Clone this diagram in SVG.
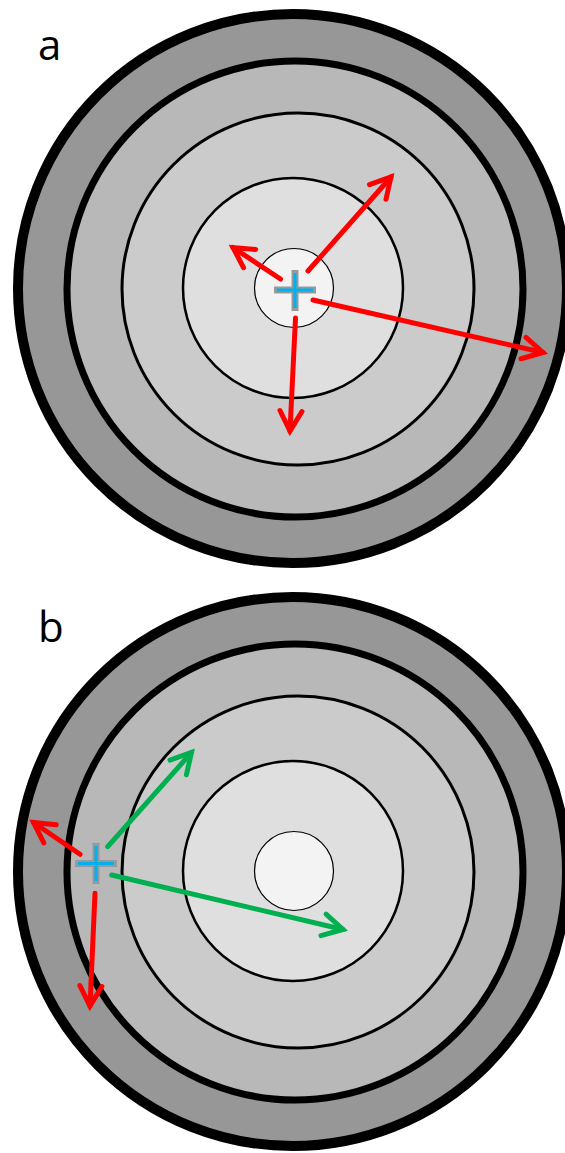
<svg xmlns="http://www.w3.org/2000/svg" width="565" height="1153" viewBox="0 0 565 1153">
<style>
.lbl{font-family:"Open Sans","Liberation Sans",sans-serif;font-size:42px;fill:#000}
.r1{fill:#979797;stroke:#000;stroke-width:10}
.r2{fill:#b8b8b8;stroke:#000;stroke-width:7}
.r3{fill:#cbcbcb;stroke:#000;stroke-width:3}
.r4{fill:#dfdfdf;stroke:#000;stroke-width:2.5}
.r5{fill:#f3f3f3;stroke:#000;stroke-width:1.2}
.cg{stroke:#999;stroke-width:7;fill:none}
.cb{stroke:#00b0f0;stroke-width:3;fill:none}
.red{stroke:#ff0000;stroke-width:5;fill:none;stroke-linecap:round;marker-end:url(#hr)}
.grn{stroke:#00b050;stroke-width:5;fill:none;stroke-linecap:round;marker-end:url(#hg)}
</style>
<defs>
<marker id="hr" markerUnits="userSpaceOnUse" viewBox="-26 -14 30 28" refX="0" refY="0" markerWidth="30" markerHeight="28" orient="auto" overflow="visible">
<path d="M-20,-11 L0,0 L-20,11" fill="none" stroke="#ff0000" stroke-width="5" stroke-linecap="round" stroke-linejoin="miter"/>
</marker>
<marker id="hg" markerUnits="userSpaceOnUse" viewBox="-26 -14 30 28" refX="0" refY="0" markerWidth="30" markerHeight="28" orient="auto" overflow="visible">
<path d="M-20,-11 L0,0 L-20,11" fill="none" stroke="#00b050" stroke-width="5" stroke-linecap="round" stroke-linejoin="miter"/>
</marker>
<g id="disc">
<circle class="r1" cx="292.5" cy="288.5" r="274.5"/>
<circle class="r2" cx="295" cy="289" r="228"/>
<circle class="r3" cx="298" cy="289" r="176"/>
<circle class="r4" cx="293" cy="288" r="110"/>
<circle class="r5" cx="294" cy="288" r="39.5"/>
</g>
</defs>
<g id="panel-a">
<text class="lbl" x="38" y="60">a</text>
<use href="#disc"/>
<g id="cross-a">
<path class="cg" d="M274,290 H316 M295,270 V311"/>
<path class="cb" d="M277,290 H313 M295,273 V308"/>
</g>
<g id="connectors-a">
<line class="red" x1="280.5" y1="279" x2="233" y2="247.5"/>
<line class="red" x1="308" y1="271" x2="391" y2="177"/>
<line class="red" x1="313" y1="300" x2="543" y2="352.5"/>
<line class="red" x1="295.5" y1="318" x2="290" y2="431"/>
</g>
</g>
<g id="panel-b">
<text class="lbl" x="38" y="642">b</text>
<use href="#disc" transform="translate(0,583)"/>
<g id="cross-b">
<path class="cg" d="M75,863.5 H117 M96,843 V884"/>
<path class="cb" d="M78,863.5 H114 M96,846 V881"/>
</g>
<g id="connectors-b">
<line class="red" x1="80" y1="854.3" x2="33.5" y2="822.5"/>
<line class="grn" x1="107.7" y1="846.7" x2="191.5" y2="752.5"/>
<line class="grn" x1="111.7" y1="875" x2="343" y2="929.5"/>
<line class="red" x1="95" y1="893.3" x2="90" y2="1006"/>
</g>
</g>
</svg>
